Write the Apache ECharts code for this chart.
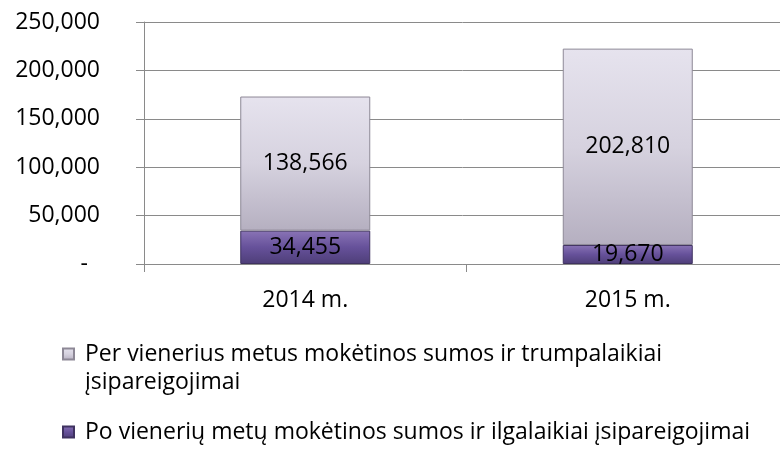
<!DOCTYPE html>
<html>
<head>
<meta charset="utf-8">
<script src="https://cdn.jsdelivr.net/npm/echarts@6/dist/echarts.min.js"></script>
<style>
  html, body { margin: 0; padding: 0; background: #fff; }
  #chart { width: 780px; height: 449px; }
</style>
</head>
<body>
<div id="chart"></div>
<script>
// data
const years = ['2014 m.', '2015 m.'];
const shortTerm = [138566, 202810];
const longTerm = [34455, 19670];
const shortName = 'Per vienerius metus mokėtinos sumos ir trumpalaikiai įsipareigojimai';
const longName = 'Po vienerių metų mokėtinos sumos ir ilgalaikiai įsipareigojimai';

const FONT = 'Open Sans';
const fmt = v => String(v).replace(/\B(?=(\d{3})+(?!\d))/g, ',');

const chart = echarts.init(document.getElementById('chart'));

const vGrad = (stops) => new echarts.graphic.LinearGradient(0, 0, 0, 1,
  stops.map((c, i) => ({ offset: i / (stops.length - 1), color: c })));

const labelStyle = {
  show: true,
  position: 'inside',
  color: '#000',
  fontFamily: FONT,
  fontSize: 23,
  formatter: p => fmt(p.value)
};

chart.setOption({
  animation: false,
  textStyle: { fontFamily: FONT },
  grid: { left: 144, right: -9, top: 22, bottom: 185, outerBoundsMode: 'none' },
  xAxis: {
    type: 'category',
    data: years,
    axisLine: { lineStyle: { color: '#8a8a8a', width: 1 } },
    axisTick: { show: true, length: 8, lineStyle: { color: '#8a8a8a' } },
    axisLabel: { color: '#000', fontFamily: FONT, fontSize: 23, margin: 25 }
  },
  yAxis: {
    type: 'value',
    min: 0,
    max: 250000,
    interval: 50000,
    axisLine: { show: true, lineStyle: { color: '#8a8a8a', width: 1 } },
    axisTick: { show: true, length: 8, lineStyle: { color: '#8a8a8a' } },
    splitLine: { lineStyle: { color: '#8a8a8a', width: 1 } },
    axisLabel: {
      color: '#000',
      fontFamily: FONT,
      fontSize: 23,
      margin: 44,
      formatter: v => v === 0 ? '{z|-}' : fmt(v),
      rich: { z: { color: '#000', fontFamily: FONT, fontSize: 23, padding: [0, 12, 0, 0] } }
    }
  },
  legend: [
    {
      data: [shortName],
      orient: 'vertical',
      left: 62,
      top: 312,
      padding: 0,
      icon: 'rect',
      itemWidth: 11,
      itemHeight: 11,
      // leading blank line keeps the icon level with the first text line
      formatter: () => '\nPer vienerius metus mokėtinos sumos ir trumpalaikiai\nįsipareigojimai',
      textStyle: { color: '#000', fontFamily: FONT, fontSize: 23, lineHeight: 28, padding: [0, 0, 0, 6] }
    },
    {
      data: [longName],
      orient: 'vertical',
      left: 62,
      top: 418,
      padding: 0,
      icon: 'rect',
      itemWidth: 11,
      itemHeight: 11,
      textStyle: { color: '#000', fontFamily: FONT, fontSize: 23, lineHeight: 28, padding: [0, 0, 0, 6] }
    }
  ],
  series: [
    {
      name: longName,
      type: 'bar',
      stack: 'total',
      barWidth: 130,
      data: longTerm,
      itemStyle: { color: vGrad(['#8a74b6', '#66519a', '#4e3e78']), borderColor: '#3f3260', borderWidth: 1 },
      label: labelStyle
    },
    {
      name: shortName,
      type: 'bar',
      stack: 'total',
      barWidth: 130,
      data: shortTerm,
      itemStyle: { color: vGrad(['#e6e3ee', '#d6d2df', '#b5afc0']), borderColor: '#8d8896', borderWidth: 1 },
      label: labelStyle
    }
  ]
});
</script>
</body>
</html>
